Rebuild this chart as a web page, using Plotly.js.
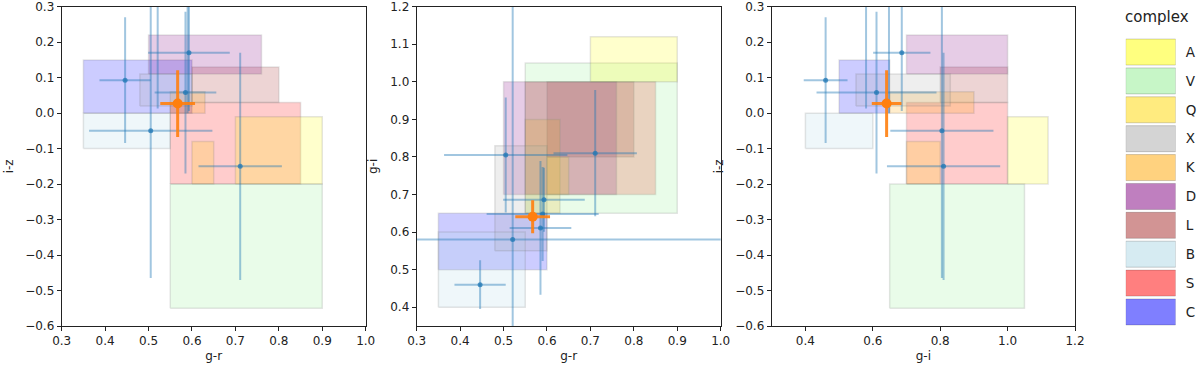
<!DOCTYPE html>
<html>
<head>
<meta charset="utf-8">
<script src="https://cdn.plot.ly/plotly-3.0.1.min.js"></script>
<style>
  body { margin: 0; background: #fff; }
  #chart { width: 1200px; height: 369px; }
</style>
</head>
<body>
<div id="chart"></div>
<script>
// complex regions (colour boxes), one entry per complex
var complexes = ['A', 'V', 'Q', 'X', 'K', 'D', 'L', 'B', 'S', 'C'];
var grLo = [0.70, 0.55, 0.60, 0.48, 0.55, 0.50, 0.60, 0.35, 0.55, 0.35];
var grHi = [0.90, 0.90, 0.65, 0.60, 0.63, 0.76, 0.80, 0.55, 0.85, 0.60];
var giLo = [1.00, 0.65, 0.70, 0.55, 0.65, 0.70, 0.80, 0.40, 0.70, 0.50];
var giHi = [1.12, 1.05, 0.80, 0.83, 0.90, 1.00, 1.00, 0.60, 1.00, 0.65];
var izLo = [-0.20, -0.55, -0.20, 0.02, 0.00, 0.11, 0.03, -0.10, -0.20, 0.00];
var izHi = [-0.01, -0.20, -0.08, 0.11, 0.06, 0.22, 0.13, 0.00, 0.03, 0.15];
var boxRGB = ['255,255,0', '144,238,144', '255,215,0', '169,169,169', '255,165,0',
              '128,0,128', '165,42,42', '173,216,230', '255,0,0', '0,0,255'];

// measured objects
var gr    = [0.446, 0.505, 0.521, 0.593, 0.590, 0.585, 0.711];
var grErr = [0.059, 0.142, 1.000, 0.094, 0.129, 0.071, 0.096];
var gi    = [0.460, 0.805, 0.580, 0.686, 0.648, 0.611, 0.810];
var giErr = [0.065, 0.153, 1.000, 0.085, 0.125, 0.178, 0.168];
var iz    = [0.093, -0.050, 0.420, 0.170, 0.330, 0.058, -0.150];
var izErr = [0.177, 0.415, 0.407, 0.164, 0.330, 0.228, 0.320];

// the target
var tGr = [0.567], tGrErr = [0.040];
var tGi = [0.641], tGiErr = [0.044];
var tIz = [0.027], tIzErr = [0.094];

var font = 'DejaVu Sans, sans-serif';
var data = [];

function box(lo1, hi1, lo2, hi2) {
  return { x: [lo1, hi1, hi1, lo1, lo1], y: [lo2, lo2, hi2, hi2, lo2] };
}

var panels = [
  { xa: 'x',  ya: 'y',  xLo: grLo, xHi: grHi, yLo: izLo, yHi: izHi, px: gr, pxe: grErr, py: iz, pye: izErr, tx: tGr, txe: tGrErr, ty: tIz, tye: tIzErr },
  { xa: 'x2', ya: 'y2', xLo: grLo, xHi: grHi, yLo: giLo, yHi: giHi, px: gr, pxe: grErr, py: gi, pye: giErr, tx: tGr, txe: tGrErr, ty: tGi, tye: tGiErr },
  { xa: 'x3', ya: 'y3', xLo: giLo, xHi: giHi, yLo: izLo, yHi: izHi, px: gi, pxe: giErr, py: iz, pye: izErr, tx: tGi, txe: tGiErr, ty: tIz, tye: tIzErr }
];

panels.forEach(function(p) {
  // boxes drawn from the bottom of the legend up
  for (var i = complexes.length - 1; i >= 0; i--) {
    var b = box(p.xLo[i], p.xHi[i], p.yLo[i], p.yHi[i]);
    data.push({
      x: b.x, y: b.y, xaxis: p.xa, yaxis: p.ya,
      type: 'scatter', mode: 'lines', fill: 'toself',
      fillcolor: 'rgba(' + boxRGB[i] + ',0.2)',
      line: { color: 'rgba(110,110,110,0.18)', width: 1.5 },
      hoverinfo: 'skip', showlegend: false
    });
  }
  data.push({
    x: p.px, y: p.py, xaxis: p.xa, yaxis: p.ya,
    type: 'scatter', mode: 'markers',
    marker: { color: 'rgba(31,119,180,0.75)', size: 5 },
    error_x: { type: 'data', array: p.pxe, color: 'rgba(31,119,180,0.42)', thickness: 2, width: 0 },
    error_y: { type: 'data', array: p.pye, color: 'rgba(31,119,180,0.42)', thickness: 2, width: 0 },
    showlegend: false
  });
  data.push({
    x: p.tx, y: p.ty, xaxis: p.xa, yaxis: p.ya,
    type: 'scatter', mode: 'markers',
    marker: { color: '#ff7f0e', size: 10 },
    error_x: { type: 'data', array: p.txe, color: 'rgba(255,127,14,0.9)', thickness: 3, width: 0 },
    error_y: { type: 'data', array: p.tye, color: 'rgba(255,127,14,0.9)', thickness: 3, width: 0 },
    showlegend: false
  });
});

// legend swatches
data.push({
  type: 'bar', orientation: 'h',
  y: complexes, x: complexes.map(function() { return 1; }),
  xaxis: 'x4', yaxis: 'y4',
  marker: {
    color: boxRGB.map(function(c) { return 'rgba(' + c + ',0.5)'; }),
    line: { color: 'rgba(0,0,0,0.18)', width: 1 }
  },
  hoverinfo: 'skip', showlegend: false
});

function axis(domain, range, dtick, title, standoff) {
  var eps = 1e-6;
  return {
    domain: domain, range: [range[0] - eps, range[1] + eps], dtick: dtick, tick0: 0, tickformat: '.1f',
    showgrid: false, zeroline: false, ticklabeloverflow: 'allow',
    showline: true, mirror: true, linecolor: '#222', linewidth: 1,
    ticks: 'outside', ticklen: 4, tickwidth: 1, tickcolor: '#222',
    tickfont: { family: font, size: 12, color: '#222' },
    title: { text: title, font: { family: font, size: 12, color: '#222' }, standoff: standoff }
  };
}

var yDom = [1 - 326 / 369, 1 - 6.7 / 369];

var layout = {
  width: 1200, height: 369,
  margin: { l: 0, r: 0, t: 0, b: 0 },
  paper_bgcolor: '#fff', plot_bgcolor: '#fff',
  showlegend: false,
  bargap: 0.1,
  xaxis:  axis([61.7 / 1200, 365.7 / 1200], [0.3, 1.0], 0.1, 'g-r', 4),
  yaxis:  axis(yDom, [-0.6, 0.3], 0.1, 'i-z', 8),
  xaxis2: axis([416.7 / 1200, 720.7 / 1200], [0.3, 1.0], 0.1, 'g-r', 4),
  yaxis2: axis(yDom, [0.35, 1.2], 0.1, 'g-i', 9),
  xaxis3: axis([771.7 / 1200, 1075 / 1200], [0.3, 1.2], 0.2, 'g-i', 4),
  yaxis3: axis(yDom, [-0.6, 0.3], 0.1, 'i-z', 8),
  xaxis4: { domain: [1125.7 / 1200, 1175.7 / 1200], range: [0, 1], visible: false, fixedrange: true },
  yaxis4: {
    domain: [1 - 326.4 / 369, 1 - 37.6 / 369], type: 'category', autorange: 'reversed',
    side: 'right', anchor: 'x4', showgrid: false, zeroline: false, showline: false, ticks: '',
    ticklabelstandoff: 9,
    tickfont: { family: font, size: 13.5, color: '#222' }
  },
  annotations: [{
    text: 'complex', xref: 'paper', yref: 'paper', x: 1157 / 1200, y: 1 - 16.7 / 369,
    xanchor: 'center', yanchor: 'middle', showarrow: false,
    font: { family: font, size: 15, color: '#222' }
  }]
};

layout.xaxis2.anchor = 'y2'; layout.yaxis2.anchor = 'x2';
layout.xaxis3.anchor = 'y3'; layout.yaxis3.anchor = 'x3';
layout.xaxis.anchor = 'y';   layout.yaxis.anchor = 'x';

Plotly.newPlot('chart', data, layout, { staticPlot: true });
</script>
</body>
</html>
